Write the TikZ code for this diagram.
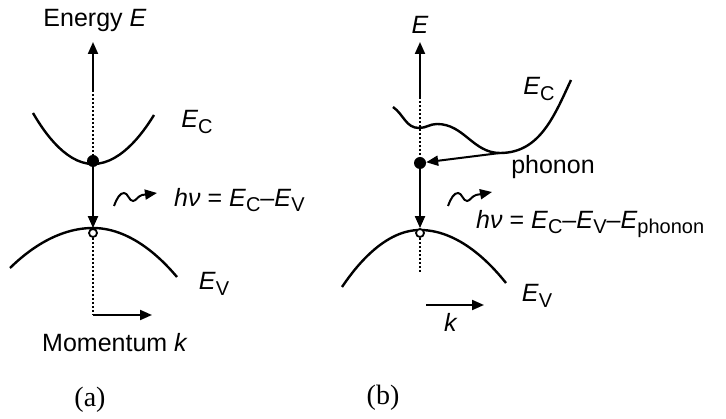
\documentclass[tikz,border=0pt]{standalone}
\usepackage{fontspec}
\setmainfont{Liberation Sans}
\newfontfamily\captionfont{Liberation Serif}
\usetikzlibrary{arrows.meta}
\newcommand{\lowidx}[1]{\raisebox{-0.4ex}{\fontsize{20}{20}\selectfont #1}}
\newcommand{\Eband}[1]{\textit{E}\lowidx{#1}}

\begin{document}
\begin{tikzpicture}[x=1pt,y=1pt,
  every node/.style={font=\fontsize{25}{29}\selectfont,inner sep=0pt},
  band/.style={line width=2.4pt},
  axis/.style={line width=2pt,-{Triangle[length=12pt,width=10pt]}},
  dots/.style={line width=1.8pt,dash pattern=on 2pt off 2pt},
  photon/.style={line width=2pt,-{Triangle[length=12pt,width=10pt]}},
  electron/.style={circle,fill,minimum size=12pt},
  hole/.style={circle,draw,fill=white,line width=1.8pt,minimum size=8pt}]

\useasboundingbox (0,0) rectangle (726,-419);

% (a) direct gap
\coordinate (axis-a-top) at (93,-42);
\coordinate (axis-a-solid-end) at (93,-90);
\coordinate (axis-a-bottom) at (93,-315);
\coordinate (momentum-arrow-end) at (152,-315);
\coordinate (wave-a-start) at (114,-206);
\coordinate (wave-a-end) at (157,-193);

\draw [band] (33,-113) parabola bend (93,-164) (154,-115);
\draw [band] (10,-268) parabola bend (93,-228) (177,-277);

\node [electron] (electron-a) at (93,-161) {};
\node [hole] (hole-a) at (93,-233) {};

\draw [axis] (axis-a-solid-end) -- (axis-a-top);
\draw [dots] (axis-a-solid-end) -- (electron-a);
\draw [axis] (electron-a) -- (hole-a);
\draw [dots] (hole-a) -- (axis-a-bottom);
\draw [axis] (axis-a-bottom) -- (momentum-arrow-end);
\draw [photon] (wave-a-start) .. controls (117,-198) and (120,-193) .. (124,-193)
  .. controls (128,-193) and (129,-201) .. (133,-201)
  .. controls (136,-201) and (138,-196) .. (142,-195) -- (wave-a-end);

\node (energy-label-a) at (95,-20) {Energy \textit{E}};
\node (ec-label-a) at (197,-122) {\Eband{C}};
\node (ev-label-a) at (214,-284) {\Eband{V}};
\node [anchor=west] (formula-a) at (174,-200) {\textit{hν} = \Eband{C}–\Eband{V}};
\node (momentum-label) at (115,-343) {Momentum \textit{k}};
\node (label-a) at (90,-400) {\captionfont\fontsize{28}{30}\selectfont (a)};

% (b) indirect gap
\coordinate (axis-b-top) at (420,-42);
\coordinate (axis-b-solid-end) at (420,-97);
\coordinate (axis-b-bottom) at (420,-273);
\coordinate (phonon-start) at (500,-153);
\coordinate (k-arrow-start) at (426,-305);
\coordinate (k-arrow-end) at (484,-305);
\coordinate (wave-b-start) at (448,-206);
\coordinate (wave-b-end) at (492,-192);

\draw [band] (393,-107) to[out=-35,in=180] (419,-128) to[out=0,in=180] (437,-124)
  to[out=0,in=180] (500,-153) to[out=0,in=-115] (571,-80);
\draw [band] (342,-287) parabola bend (420,-230) (506,-283);

\node [electron] (electron-b) at (420,-163) {};
\node [hole] (hole-b) at (420,-233) {};

\draw [axis] (axis-b-solid-end) -- (axis-b-top);
\draw [dots] (axis-b-solid-end) -- (electron-b);
\draw [axis] (phonon-start) -- (electron-b);
\draw [axis] (electron-b) -- (hole-b);
\draw [dots] (hole-b) -- (axis-b-bottom);
\draw [axis] (k-arrow-start) -- (k-arrow-end);
\draw [photon] (wave-b-start) .. controls (451,-198) and (454,-193) .. (458,-193)
  .. controls (462,-193) and (463,-201) .. (467,-201)
  .. controls (470,-201) and (472,-196) .. (476,-195) -- (wave-b-end);

\node (energy-label-b) at (420,-25) {\textit{E}};
\node (ec-label-b) at (539,-89) {\Eband{C}};
\node (phonon-label) at (553,-167) {phonon};
\node [anchor=west] (formula-b) at (476,-224) {\textit{hν} = \Eband{C}–\Eband{V}–\Eband{phonon}};
\node (ev-label-b) at (537,-296) {\Eband{V}};
\node (k-label) at (451,-322) {\textit{k}};
\node (label-b) at (383,-398) {\captionfont\fontsize{28}{30}\selectfont (b)};

\end{tikzpicture}
\end{document}
